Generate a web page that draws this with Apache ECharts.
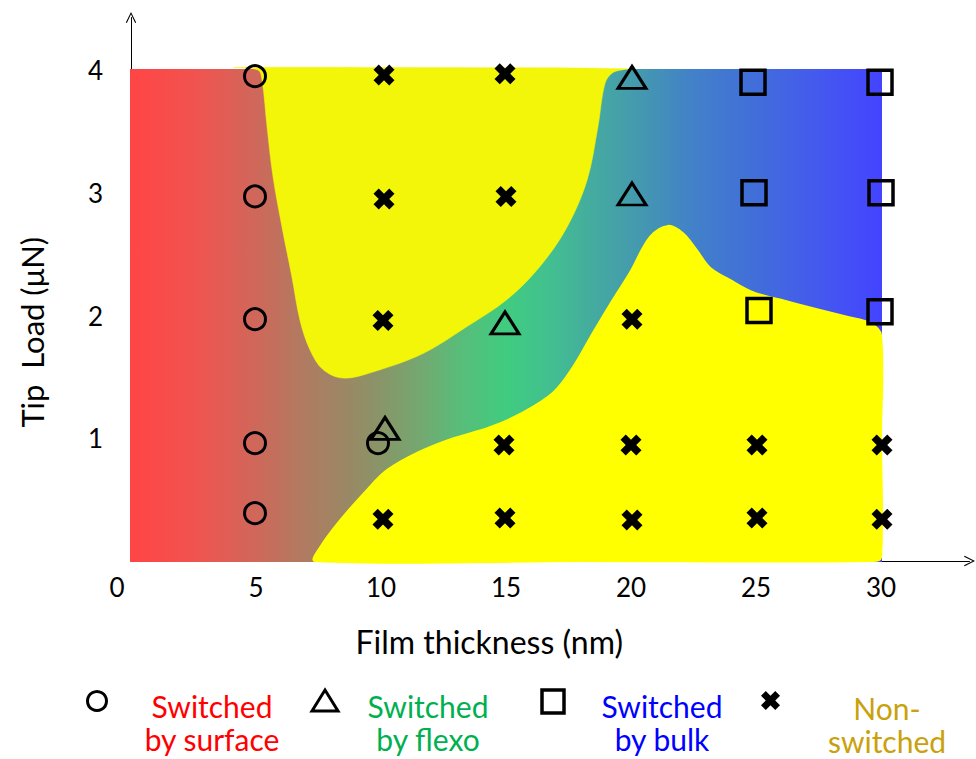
<!DOCTYPE html>
<html>
<head>
<meta charset="utf-8">
<script src="https://cdn.jsdelivr.net/npm/echarts@6/dist/echarts.min.js"></script>
<style>
  html, body { margin: 0; padding: 0; background: #fff; }
  #chart { width: 976px; height: 759px; }
</style>
</head>
<body>
<div id="chart"></div>
<script>
// Axis ticks (film thickness in nm, tip load in µN)
const thicknessTicks = [0, 5, 10, 15, 20, 25, 30];
const loadTicks = [1, 2, 3, 4];

// Mapped domain of the diagram
const domain = [[0, 0], [30, 0], [30, 4], [0, 4]];

// Boundary of the upper non-switched pocket
const nonSwitchedUpper = [
  [4.16, 4.02], [5.08, 4.00], [5.24, 3.92], [5.44, 3.54], [5.68, 3.13],
  [6.04, 2.72], [6.44, 2.31], [6.76, 1.96], [7.16, 1.72], [7.68, 1.56],
  [8.48, 1.49], [9.68, 1.54], [11.68, 1.69], [13.44, 1.91], [15.04, 2.13],
  [16.36, 2.40], [17.44, 2.72], [18.24, 3.10], [18.68, 3.54], [18.96, 3.89],
  [19.28, 3.98], [19.84, 4.01], [11.96, 4.02]
];

// Boundary of the lower non-switched region
const nonSwitchedLower = [
  [7.36, 0.00], [7.56, 0.11], [8.36, 0.33], [9.44, 0.58], [10.24, 0.74],
  [11.44, 0.88], [12.76, 0.99], [14.36, 1.09], [15.68, 1.21], [16.88, 1.37],
  [17.68, 1.58], [18.48, 1.86], [19.28, 2.13], [19.96, 2.35], [20.76, 2.64],
  [21.48, 2.73], [22.08, 2.67], [22.64, 2.53], [23.16, 2.39], [23.96, 2.29],
  [24.88, 2.19], [25.96, 2.13], [27.28, 2.06], [28.64, 1.99], [29.56, 1.94],
  [30.00, 1.84], [30.00, 1.00], [30.00, 0.03], [29.68, 0.00], [18.00, 0.00]
];

// Measured points by switching mechanism
const surfacePts = [[4.96, 3.95], [4.96, 2.97], [4.96, 1.97], [4.96, 0.96], [4.96, 0.39], [9.88, 0.96]];
const flexoPts = [[20.04, 3.94], [20.04, 2.99], [14.96, 1.94], [10.16, 1.08]];
const bulkPts = [[24.88, 3.90], [29.96, 3.90], [24.92, 3.00], [30.00, 3.00], [25.12, 2.04], [29.96, 2.03]];
const nonSwitchedPts = [
  [10.12, 3.96], [14.96, 3.97], [10.12, 2.95], [15.00, 2.97], [10.08, 1.96], [20.04, 1.97],
  [14.92, 0.945], [20.00, 0.945], [25.04, 0.945], [30.04, 0.945],
  [10.08, 0.34], [14.96, 0.35], [20.04, 0.334], [25.04, 0.35], [30.04, 0.34]
];

const FONT = 'Lato, "Open Sans", sans-serif';
// Bold "x" outline in a 10x10 box
const crossOutline = [[0, 2.5], [2.5, 0], [5, 2.5], [7.5, 0], [10, 2.5], [7.5, 5], [10, 7.5], [7.5, 10], [5, 7.5], [2.5, 10], [0, 7.5], [2.5, 5]];
const crossPath = 'path://M' + crossOutline.map(p => p.join(',')).join('L') + 'Z';
const chevron = 'path://M0,10L5,0L10,10L9,10.6L5,2.2L1,10.6Z';

// Horizontal blend: surface (red) -> flexo (green) -> bulk (blue)
const mechanismGradient = {
  type: 'linear', x: 0, y: 0, x2: 1, y2: 0, global: false,
  colorStops: [
    { offset: 0.00, color: '#ff4545' },
    { offset: 0.09, color: '#f05450' },
    { offset: 0.165, color: '#d0675a' },
    { offset: 0.225, color: '#b27a60' },
    { offset: 0.28, color: '#9d8664' },
    { offset: 0.33, color: '#8a9468' },
    { offset: 0.385, color: '#74a870' },
    { offset: 0.44, color: '#58bd7a' },
    { offset: 0.50, color: '#40cc80' },
    { offset: 0.56, color: '#42bf90' },
    { offset: 0.625, color: '#45a8a2' },
    { offset: 0.68, color: '#4498b0' },
    { offset: 0.745, color: '#4282c8' },
    { offset: 0.825, color: '#4170d8' },
    { offset: 0.92, color: '#4458ef' },
    { offset: 1.00, color: '#4444ff' }
  ]
};

// Filled region; a thin stroke in the same paint hides the axis lines under its edge
function regionSeries(points, fill, smooth, edge) {
  return {
    type: 'custom',
    coordinateSystem: 'cartesian2d',
    data: points,
    z: 1,
    silent: true,
    renderItem: function (params, api) {
      if (params.dataIndex !== 0) return null;
      return {
        type: 'polygon',
        shape: { points: points.map(p => api.coord(p)), smooth: smooth },
        style: { fill: fill, stroke: fill, lineWidth: edge }
      };
    }
  };
}

function markerSeries(name, data, symbol, size, style) {
  return {
    name: name,
    type: 'scatter',
    data: data,
    symbol: symbol,
    symbolSize: size,
    z: 5,
    silent: true,
    itemStyle: style
  };
}

const hollow = { color: 'rgba(0,0,0,0)', borderColor: '#000', borderWidth: 3, opacity: 1 };

const chart = echarts.init(document.getElementById('chart'), null, { renderer: 'svg' });
chart.setOption({
  animation: false,
  backgroundColor: '#fff',
  grid: { left: 131, right: 6.5, top: 17.5, bottom: 198, containLabel: false },
  xAxis: {
    type: 'value',
    min: 0, max: 33.54, interval: 5,
    name: 'Film thickness (nm)',
    nameLocation: 'middle',
    nameGap: 64,
    nameTextStyle: { fontSize: 32, fontFamily: FONT, color: '#000', padding: [0, 122, 0, 0] },
    axisLine: { show: true, lineStyle: { color: '#000', width: 1 }, symbol: ['none', chevron], symbolSize: [12, 11] },
    axisTick: { show: false },
    splitLine: { show: false },
    axisLabel: {
      showMaxLabel: false,
      fontSize: 26, fontFamily: FONT, color: '#000', margin: 13,
      formatter: v => (thicknessTicks.includes(v) ? (v === 0 ? '{z|0}' : String(v)) : ''),
      rich: { z: { fontSize: 26, fontFamily: FONT, color: '#000', padding: [0, 28, 0, 0] } }
    }
  },
  yAxis: {
    type: 'value',
    min: 0, max: 4.428, interval: 1,
    name: 'Tip  Load (μN)',
    nameLocation: 'middle',
    nameRotate: 90,
    nameGap: 84,
    nameTextStyle: { fontSize: 31, fontFamily: FONT, color: '#000', padding: [0, 86, 0, 0] },
    axisLine: { show: true, lineStyle: { color: '#000', width: 1 }, symbol: ['none', chevron], symbolSize: [12, 11] },
    axisTick: { show: false },
    splitLine: { show: false },
    axisLabel: {
      showMaxLabel: false,
      fontSize: 26, fontFamily: FONT, color: '#000', margin: 28,
      formatter: v => (loadTicks.includes(v) ? String(v) : '')
    }
  },
  series: [
    regionSeries(domain, mechanismGradient, 0, 2),
    regionSeries(nonSwitchedUpper, '#f4f60a', 0.35, 0.5),
    regionSeries(nonSwitchedLower, '#ffff00', 0.35, 2),
    markerSeries('Switched by surface', surfacePts, 'circle', 21, hollow),
    markerSeries('Switched by flexo', flexoPts, 'triangle', [28, 22], hollow),
    markerSeries('Switched by bulk', bulkPts, 'rect', [24, 24], Object.assign({}, hollow, { borderWidth: 3.5 })),
    markerSeries('Non-switched', nonSwitchedPts, crossPath, 21, { color: '#000', opacity: 1 })
  ],
  graphic: [
    { type: 'circle', shape: { cx: 97, cy: 701, r: 9.5 }, style: { fill: 'none', stroke: '#000', lineWidth: 3 } },
    { type: 'text', x: 212, y: 689, style: { text: 'Switched\nby surface', fill: '#ff0000', font: '30px ' + FONT, align: 'center', verticalAlign: 'top', lineHeight: 33 } },
    { type: 'polygon', shape: { points: [[325, 690], [338, 711], [312, 711]] }, style: { fill: 'none', stroke: '#000', lineWidth: 3 } },
    { type: 'text', x: 428, y: 689, style: { text: 'Switched\nby flexo', fill: '#00b050', font: '30px ' + FONT, align: 'center', verticalAlign: 'top', lineHeight: 33 } },
    { type: 'rect', shape: { x: 542, y: 690, width: 22, height: 23 }, style: { fill: 'none', stroke: '#000', lineWidth: 3.5 } },
    { type: 'text', x: 662, y: 689, style: { text: 'Switched\nby bulk', fill: '#0000ff', font: '30px ' + FONT, align: 'center', verticalAlign: 'top', lineHeight: 33 } },
    { type: 'polygon', x: 761, y: 691, scaleX: 1.9, scaleY: 1.9, shape: { points: crossOutline }, style: { fill: '#000' } },
    { type: 'text', x: 887, y: 691, style: { text: 'Non-\nswitched', fill: '#c9a10b', font: '30px ' + FONT, align: 'center', verticalAlign: 'top', lineHeight: 33 } }
  ]
});
</script>
</body>
</html>
